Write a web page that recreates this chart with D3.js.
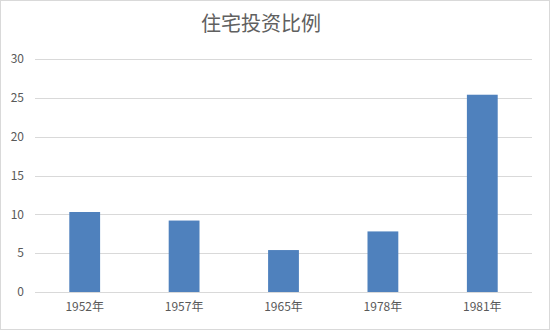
<!DOCTYPE html>
<html>
<head>
<meta charset="utf-8">
<script src="https://cdn.jsdelivr.net/npm/d3@7"></script>
<style>
  body { margin: 0; background: #fff; }
  svg { display: block; font-family: "Noto Sans CJK SC", "Microsoft YaHei", sans-serif; }
</style>
</head>
<body>
<div id="chart"></div>
<script>
// Housing investment share by year
const categories = ['1952年', '1957年', '1965年', '1978年', '1981年'];
const values = [10.3, 9.2, 5.4, 7.8, 25.4];
const yTicks = [0, 5, 10, 15, 20, 25, 30];

const W = 550, H = 330;
const margin = { top: 59, right: 18, bottom: 38, left: 35 };
const width = W - margin.left - margin.right;
const height = H - margin.top - margin.bottom;

const svg = d3.select('#chart').append('svg')
    .attr('width', W)
    .attr('height', H);

// outer frame
svg.append('rect')
    .attr('x', 0.5).attr('y', 0.5)
    .attr('width', W - 1).attr('height', H - 1)
    .attr('fill', '#fff')
    .attr('stroke', '#d9d9d9');

svg.append('text')
    .attr('x', 261)
    .attr('y', 31)
    .attr('text-anchor', 'middle')
    .attr('font-size', 20)
    .attr('fill', '#606060')
    .text('住宅投资比例');

const g = svg.append('g')
    .attr('transform', `translate(${margin.left},${margin.top})`);

const x = d3.scaleBand().domain(categories).range([0, width]).padding(0);
const y = d3.scaleLinear().domain([0, 30]).range([height, 0]);

// gridlines
g.append('g')
    .selectAll('line')
    .data(yTicks)
    .join('line')
    .attr('x1', 0).attr('x2', width)
    .attr('y1', d => Math.round(y(d)) + 0.5)
    .attr('y2', d => Math.round(y(d)) + 0.5)
    .attr('stroke', '#d9d9d9')
    .attr('stroke-width', 1);

// y labels
g.append('g')
    .selectAll('text')
    .data(yTicks)
    .join('text')
    .attr('x', -11)
    .attr('y', d => y(d))
    .attr('dy', '0.35em')
    .attr('text-anchor', 'end')
    .attr('font-size', 12)
    .attr('fill', '#595959')
    .text(d => d);

// bars
const barW = x.bandwidth() * 0.31;
g.append('g')
    .selectAll('rect')
    .data(categories)
    .join('rect')
    .attr('x', (d) => x(d) + (x.bandwidth() - barW) / 2)
    .attr('width', barW)
    .attr('y', (d, i) => y(values[i]))
    .attr('height', (d, i) => height - y(values[i]))
    .attr('fill', '#4f81bd');

// x labels
g.append('g')
    .selectAll('text')
    .data(categories)
    .join('text')
    .attr('x', d => x(d) + x.bandwidth() / 2)
    .attr('y', height + 19)
    .attr('text-anchor', 'middle')
    .attr('font-size', 12)
    .attr('fill', '#595959')
    .text(d => d);
</script>
</body>
</html>
